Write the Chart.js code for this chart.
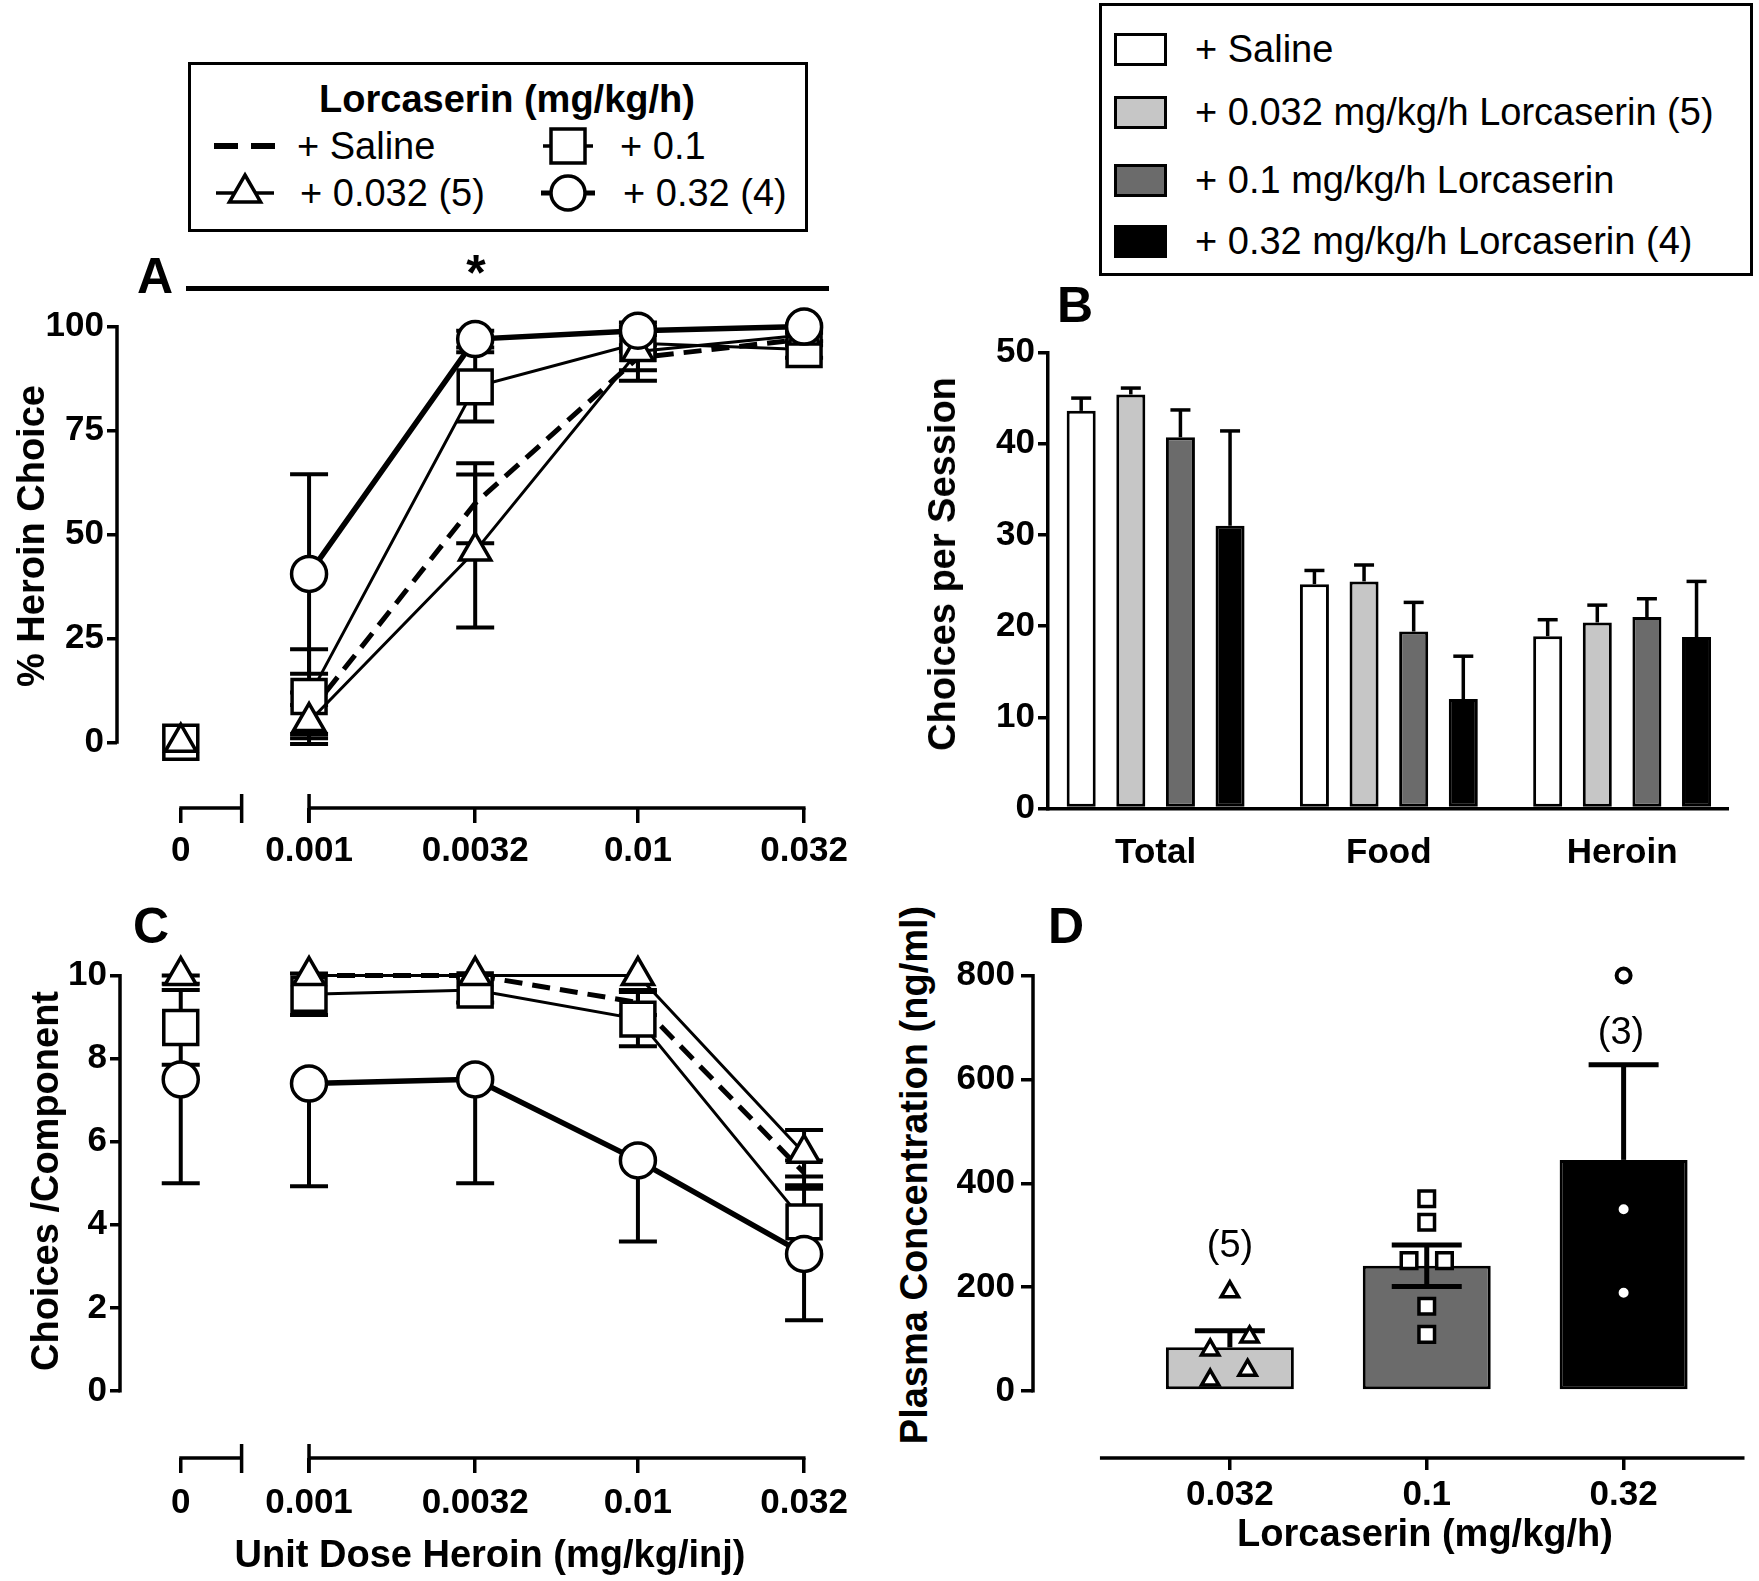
<!DOCTYPE html>
<html>
<head>
<meta charset="utf-8">
<script src="https://cdn.jsdelivr.net/npm/chart.js@4.4.1/dist/chart.umd.min.js"></script>
<style>
  body { margin: 0; background: #fff; }
  #fig { position: relative; width: 1759px; height: 1581px; font-family: 'Liberation Sans', Arial, sans-serif; color: #000; overflow: hidden; }
  canvas { position: absolute; }
  .t { position: absolute; transform: translate(-50%, -50%); white-space: nowrap; line-height: 1; }
  .l { position: absolute; transform: translate(0, -50%); white-space: nowrap; line-height: 1; font-size: 38px; }
  .b { font-weight: bold; }
  .rot { transform: translate(-50%, -50%) rotate(-90deg); }
  .box { position: absolute; border: 3px solid #000; box-sizing: border-box; }
  .sw { position: absolute; width: 53px; height: 33px; border: 3px solid #000; box-sizing: border-box; }
</style>
</head>
<body>
<div id="fig">
  <canvas id="chartA" width="860" height="600" style="left:0;top:290px"></canvas>
  <canvas id="chartB" width="799" height="560" style="left:960px;top:320px"></canvas>
  <canvas id="chartC" width="860" height="598" style="left:0;top:940px"></canvas>
  <canvas id="chartD" width="819" height="598" style="left:940px;top:940px"></canvas>

  <!-- legend A -->
  <div class="box" style="left:188px;top:62px;width:620px;height:170px"></div>
  <div class="t b" style="left:507px;top:99px;font-size:38px">Lorcaserin (mg/kg/h)</div>
  <svg style="position:absolute;left:0;top:0" width="860" height="240">
    <g stroke="#000" fill="#fff">
      <line x1="214" y1="146" x2="238" y2="146" stroke-width="6"/>
      <line x1="251" y1="146" x2="275" y2="146" stroke-width="6"/>
      <line x1="543" y1="146" x2="593" y2="146" stroke-width="3.5"/>
      <rect x="551" y="129" width="34" height="34" stroke-width="3.5"/>
      <line x1="216" y1="193" x2="274" y2="193" stroke-width="3.5"/>
      <polygon points="245,175 260.6,202 229.4,202" stroke-width="3.5"/>
      <line x1="541" y1="193" x2="595" y2="193" stroke-width="5"/>
      <circle cx="568" cy="193" r="17" stroke-width="3.5"/>
    </g>
  </svg>
  <div class="l" style="left:297px;top:146px">+ Saline</div>
  <div class="l" style="left:620px;top:146px">+ 0.1</div>
  <div class="l" style="left:300px;top:193px">+ 0.032 (5)</div>
  <div class="l" style="left:623px;top:193px">+ 0.32 (4)</div>

  <!-- legend B -->
  <div class="box" style="left:1099px;top:3px;width:654px;height:273px"></div>
  <div class="sw" style="left:1114px;top:33px;background:#fff"></div>
  <div class="sw" style="left:1114px;top:96px;background:#c6c6c6"></div>
  <div class="sw" style="left:1114px;top:164px;background:#6b6b6b"></div>
  <div class="sw" style="left:1114px;top:225px;background:#000"></div>
  <div class="l" style="left:1195px;top:49px">+ Saline</div>
  <div class="l" style="left:1195px;top:112px">+ 0.032 mg/kg/h Lorcaserin (5)</div>
  <div class="l" style="left:1195px;top:180px">+ 0.1 mg/kg/h Lorcaserin</div>
  <div class="l" style="left:1195px;top:241px">+ 0.32 mg/kg/h Lorcaserin (4)</div>

  <!-- panel letters, significance, titles -->
  <div class="t b" style="left:155px;top:276px;font-size:50px">A</div>
  <div style="position:absolute;left:186px;top:286px;width:643px;height:5px;background:#000"></div>
  <div class="t b" style="left:476px;top:273px;font-size:50px">*</div>
  <div class="t b" style="left:1075px;top:305px;font-size:50px">B</div>
  <div class="t b" style="left:151px;top:926px;font-size:50px">C</div>
  <div class="t b" style="left:1066px;top:926px;font-size:50px">D</div>

  <div class="t b rot" style="left:31px;top:536px;font-size:38px">% Heroin Choice</div>
  <div class="t b rot" style="left:942px;top:564px;font-size:38px">Choices per Session</div>
  <div class="t b rot" style="left:45px;top:1181px;font-size:38px">Choices /Component</div>
  <div class="t b rot" style="left:914px;top:1175px;font-size:38px">Plasma Concentration (ng/ml)</div>
  <div class="t b" style="left:490px;top:1554px;font-size:38px">Unit Dose Heroin (mg/kg/inj)</div>
  <div class="t b" style="left:1425px;top:1533px;font-size:38px">Lorcaserin (mg/kg/h)</div>
  <div class="t" style="left:1230px;top:1244px;font-size:38px">(5)</div>
  <div class="t" style="left:1621px;top:1031px;font-size:38px">(3)</div>
</div>

<script>
// ---- data ----
const doseLabels = ['0', '0.001', '0.0032', '0.01', '0.032'];
const doses = [0, 0.001, 0.0032, 0.01, 0.032];

// A: % heroin choice (mean, SEM)
const aSaline = [0, 7, 57.5, 92.5, 97];
const aSalineErr = [0, 5, 9.6, 3, 1.5];
const a032 = [0, 5, 46, 94, 98];
const a032Err = [0, 4, 18.4, 7, 1.5];
const a01 = [0, 11, 85.5, 96, 94.5];
const a01Err = [0, 11.4, 8.3, 2, 2];
const a32 = [null, 40.5, 97, 99, 100];
const a32Err = [0, 24, 2, 1, 0.5];
const aYTicks = [0, 25, 50, 75, 100];

// C: choices / component
const cSaline = [9.9, 10, 10, 9.35, 5.25];
const cSalineErr = [0.1, 0, 0, 0.3, 0.3];
const c032 = [10, 10, 10, 10, 5.72];
const c032Err = [0, 0, 0, 0, 0.56];
const c01 = [8.75, 9.55, 9.65, 8.95, 4.07];
const c01Err = [0.9, 0.5, 0.3, 0.65, 0.8];
const c32 = [7.5, 7.4, 7.5, 5.55, 3.3];
const c32Err = [2.5, 2.47, 2.5, 1.95, 1.6];
const cYTicks = [0, 2, 4, 6, 8, 10];

// B: choices per session
const bGroups = ['Total', 'Food', 'Heroin'];
const bSaline = [43.6, 24.6, 18.9];
const bSalineErr = [1.4, 1.5, 1.8];
const b032 = [45.4, 24.9, 20.4];
const b032Err = [0.7, 1.8, 1.9];
const b01 = [40.7, 19.4, 21.0];
const b01Err = [3.0, 3.2, 2.0];
const b32 = [31.0, 12.0, 18.8];
const b32Err = [10.4, 4.7, 6.1];
const bYTicks = [0, 10, 20, 30, 40, 50];

// D: plasma concentration
const dLabels = ['0.032', '0.1', '0.32'];
const dMeans = [84, 241, 445];
const dErrUp = [32, 40, 183];
const dErrDown = [0, 40, 0];
const d032Vals = [191, 104, 79, 40, 21];
const d032Jit = [0, 0.1, -0.1, 0.09, -0.1];
const d01Vals = [370, 325, 251, 251, 163, 109];
const d01Jit = [0, 0, -0.09, 0.09, 0, 0];
const d32Vals = [800, 350, 189];
const d32Jit = [0, 0, 0];
const dYTicks = [0, 200, 400, 600, 800];

// ---- helpers ----
const ZERO_X = -3.39;   // where the 0 dose sits on the log axis
const BREAK_X = -3.205; // end of the 0-dose axis stub
const doseX = d => d > 0 ? Math.log10(d) : ZERO_X;

Chart.defaults.font.family = "'Liberation Sans', Arial, sans-serif";
Chart.defaults.color = '#000';

const common = {
  animation: false, responsive: false, events: [],
  plugins: { legend: { display: false }, tooltip: { enabled: false } }
};
const tickFont = { size: 35, weight: 'bold' };

function line(ctx, x1, y1, x2, y2) {
  ctx.beginPath(); ctx.moveTo(x1, y1); ctx.lineTo(x2, y2); ctx.stroke();
}

function drawErrors(chart, i) {
  const ds = chart.data.datasets[i];
  if (!ds.errUp && !ds.errDown) return;
  const meta = chart.getDatasetMeta(i);
  const y = chart.scales.y, ctx = chart.ctx;
  ctx.save();
  ctx.strokeStyle = '#000';
  ctx.lineWidth = ds.errWidth;
  meta.data.forEach((el, j) => {
    const raw = ds.data[j];
    const v = raw == null ? null : (typeof raw === 'object' ? raw.y : raw);
    if (v == null) return;
    const up = ds.errUp ? (ds.errUp[j] || 0) : 0;
    const dn = ds.errDown ? (ds.errDown[j] || 0) : 0;
    if (!up && !dn) return;
    const yt = y.getPixelForValue(v + up), yb = y.getPixelForValue(v - dn);
    line(ctx, el.x, yt, el.x, yb);
    if (up) line(ctx, el.x - ds.capHalf, yt, el.x + ds.capHalf, yt);
    if (dn) line(ctx, el.x - ds.capHalf, yb, el.x + ds.capHalf, yb);
  });
  ctx.restore();
}

const errUnder = { id: 'errUnder', beforeDatasetsDraw(chart) { chart.data.datasets.forEach((d, i) => drawErrors(chart, i)); } };
const errOver = { id: 'errOver', afterDatasetsDraw(chart) { chart.data.datasets.forEach((d, i) => drawErrors(chart, i)); } };
const errAfterBar = { id: 'errAfterBar', afterDatasetDraw(chart, args) { if (args.index === 0) drawErrors(chart, 0); } };

// broken dose axis used by A and C
function doseAxes(yTop) {
  return {
    id: 'doseAxes',
    afterDraw(chart) {
      const { ctx, chartArea, scales: { x, y } } = chart;
      const b = chartArea.bottom;
      ctx.save();
      ctx.strokeStyle = '#000';
      ctx.lineWidth = 3.5;
      line(ctx, chartArea.left, y.getPixelForValue(0) + 1.5, chartArea.left, y.getPixelForValue(yTop) - 1.5);
      const x0 = x.getPixelForValue(doseX(doses[0])), xb = x.getPixelForValue(BREAK_X);
      const x1 = x.getPixelForValue(doseX(doses[1])), xe = x.getPixelForValue(doseX(doses[4]));
      line(ctx, x0 - 1.5, b, xb, b);
      line(ctx, x1, b, xe + 1.5, b);
      line(ctx, xb, b - 14, xb, b + 15);
      line(ctx, x1, b - 14, x1, b + 15);
      ctx.restore();
    }
  };
}

function series(vals, errs, style) {
  return Object.assign({
    type: 'line',
    data: doses.map((d, i) => ({ x: doseX(d), y: vals[i] })),
    errUp: errs, errDown: errs, capHalf: 19, errWidth: 4,
    borderColor: '#000', pointBackgroundColor: '#fff', pointBorderColor: '#000',
    clip: false, tension: 0,
    segment: { borderColor: c => c.p0DataIndex === 0 ? 'rgba(0,0,0,0)' : undefined }
  }, style);
}

function doseScaleX(min, max, xHeight, pad) {
  return {
    type: 'linear', min: min, max: max, offset: false,
    afterBuildTicks: s => { s.ticks = doses.map(d => ({ value: doseX(d) })); },
    afterFit: s => { s.height = xHeight; },
    grid: { display: true, offset: false, drawOnChartArea: false, drawTicks: true, tickLength: 15, color: '#000', lineWidth: 3.5 },
    border: { display: false },
    ticks: { autoSkip: false, maxRotation: 0, minRotation: 0, padding: pad, font: tickFont, callback: (v, i) => doseLabels[i] }
  };
}

function valueScaleY(min, max, ticks, width, tl, pad) {
  return {
    type: 'linear', min: min, max: max,
    afterBuildTicks: s => { s.ticks = ticks.map(v => ({ value: v })); },
    afterFit: s => { s.width = width; },
    grid: { display: true, drawOnChartArea: false, drawTicks: true, tickLength: tl, color: '#000', lineWidth: 3.5 },
    border: { display: false },
    ticks: { padding: pad, font: tickFont }
  };
}

// ---- A ----
new Chart(document.getElementById('chartA'), {
  type: 'line',
  data: { datasets: [
    series(aSaline, aSalineErr, { borderWidth: 5, borderDash: [18, 10], pointRadius: 0, order: 4 }),
    series(a01, a01Err, { borderWidth: 3, pointStyle: 'rect', pointRadius: 24, pointBorderWidth: 3.5, order: 3 }),
    series(a032, a032Err, { borderWidth: 3, pointStyle: 'triangle', pointRadius: 18, pointBorderWidth: 3.5, order: 2 }),
    series(a32, a32Err, { borderWidth: 5.5, pointStyle: 'circle', pointRadius: 17.5, pointBorderWidth: 3.5, order: 1 })
  ] },
  options: Object.assign({}, common, {
    layout: { padding: { top: 36.6, right: 30, left: 0, bottom: 0 } },
    scales: {
      x: doseScaleX(-3.584, -1.416, 82, 7),
      y: valueScaleY(-15.8, 100, aYTicks, 117, 10, 3)
    }
  }),
  plugins: [errUnder, doseAxes(100)]
});

// ---- C ----
new Chart(document.getElementById('chartC'), {
  type: 'line',
  data: { datasets: [
    series(cSaline, cSalineErr, { borderWidth: 5, borderDash: [18, 10], pointRadius: 0, order: 4 }),
    series(c01, c01Err, { borderWidth: 3, pointStyle: 'rect', pointRadius: 24, pointBorderWidth: 3.5, order: 3 }),
    series(c032, c032Err, { borderWidth: 3, pointStyle: 'triangle', pointRadius: 18, pointBorderWidth: 3.5, order: 2 }),
    // circles only carry the downward half of their error bar here
    series(c32, c32Err, { errUp: null, errDown: c32Err, borderWidth: 5.5, pointStyle: 'circle', pointRadius: 17.5, pointBorderWidth: 3.5, order: 1 })
  ] },
  options: Object.assign({}, common, {
    layout: { padding: { top: 35.5, right: 30, left: 0, bottom: 0 } },
    scales: {
      x: doseScaleX(-3.5747, -1.416, 80, 9.5),
      y: valueScaleY(-1.6125, 10, cYTicks, 120, 10, 3)
    }
  }),
  plugins: [errUnder, doseAxes(10)]
});

// ---- B ----
function barSet(vals, errs, color) {
  return {
    data: vals.map((v, i) => ({ x: i, y: v })),
    backgroundColor: color, borderColor: '#000', borderWidth: 3, borderSkipped: false,
    barPercentage: 0.585, categoryPercentage: 0.851,
    errUp: errs, capHalf: 10, errWidth: 3.5
  };
}
new Chart(document.getElementById('chartB'), {
  type: 'bar',
  data: { datasets: [
    barSet(bSaline, bSalineErr, '#fff'),
    barSet(b032, b032Err, '#c6c6c6'),
    barSet(b01, b01Err, '#6b6b6b'),
    barSet(b32, b32Err, '#000')
  ] },
  options: Object.assign({}, common, {
    layout: { padding: { top: 32.5, right: 31, left: 0, bottom: 0 } },
    scales: {
      x: {
        type: 'linear', min: -0.4614, max: 2.454, offset: false,
        afterBuildTicks: s => { s.ticks = bGroups.map((g, i) => ({ value: i })); },
        afterFit: s => { s.height = 71.5; },
        grid: { display: true, offset: false, drawOnChartArea: false, drawTicks: false },
        border: { display: true, color: '#000', width: 3.5 },
        ticks: { autoSkip: false, maxRotation: 0, padding: 24, font: tickFont, callback: (v, i) => bGroups[i] }
      },
      y: Object.assign(valueScaleY(0, 50, bYTicks, 88, 10, 3), { border: { display: true, color: '#000', width: 3.5 } })
    }
  }),
  plugins: [errOver]
});

// ---- D ----
function dots(vals, jit, pos, style) {
  return Object.assign({
    type: 'scatter',
    data: vals.map((v, i) => ({ x: pos + jit[i], y: v })),
    pointBackgroundColor: '#fff', pointBorderColor: '#000', pointBorderWidth: 3.5,
    clip: false, order: 1
  }, style);
}
new Chart(document.getElementById('chartD'), {
  type: 'bar',
  data: { datasets: [
    {
      type: 'bar',
      data: dMeans.map((v, i) => ({ x: i + 1, y: v })),
      backgroundColor: ['#c6c6c6', '#6b6b6b', '#000'], borderColor: '#000', borderWidth: 3, borderSkipped: false,
      barPercentage: 0.65, categoryPercentage: 1,
      errUp: dErrUp, errDown: dErrDown, capHalf: 35, errWidth: 5, order: 3
    },
    dots(d032Vals, d032Jit, 1, { pointStyle: 'triangle', pointRadius: 10 }),
    dots(d01Vals, d01Jit, 2, { pointStyle: 'rect', pointRadius: 11 }),
    dots(d32Vals, d32Jit, 3, { pointStyle: 'circle', pointRadius: 7, pointBorderWidth: 4 })
  ] },
  options: Object.assign({}, common, {
    layout: { padding: { top: 35.5, right: 14, left: 0, bottom: 0 } },
    scales: {
      x: {
        type: 'linear', min: 0, max: 3.614, offset: false,
        afterBuildTicks: s => { s.ticks = dLabels.map((l, i) => ({ value: i + 1 })); },
        afterFit: s => { s.height = 80; },
        grid: { display: true, offset: false, drawOnChartArea: false, drawTicks: true, tickLength: 12, color: '#000', lineWidth: 3.5 },
        border: { display: false },
        ticks: { autoSkip: false, maxRotation: 0, padding: 4.5, font: tickFont, callback: (v, i) => dLabels[i] }
      },
      y: valueScaleY(-129, 800, dYTicks, 93, 12, 6)
    }
  }),
  plugins: [errAfterBar, {
    id: 'dAxes',
    afterDraw(chart) {
      const { ctx, chartArea, scales: { x, y } } = chart;
      ctx.save();
      ctx.strokeStyle = '#000';
      ctx.lineWidth = 3.5;
      line(ctx, chartArea.left, y.getPixelForValue(0) + 1.5, chartArea.left, y.getPixelForValue(800) - 1.5);
      line(ctx, x.getPixelForValue(0.34), chartArea.bottom, chartArea.right, chartArea.bottom);
      ctx.restore();
    }
  }]
});
</script>
</body>
</html>
